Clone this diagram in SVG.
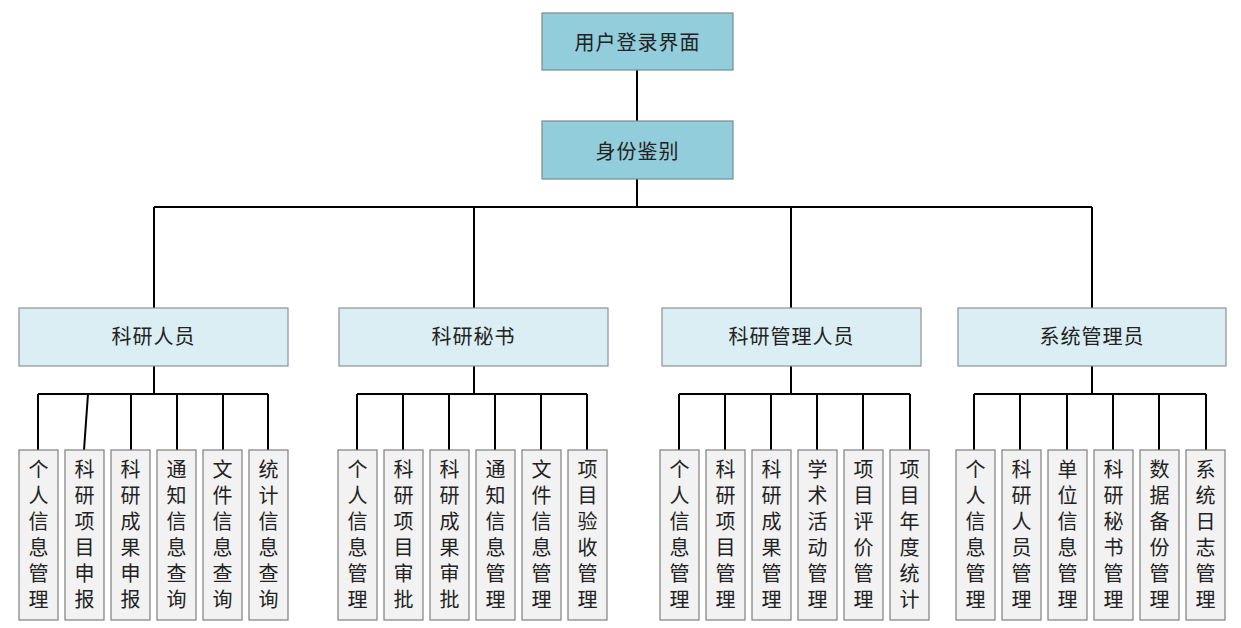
<svg xmlns="http://www.w3.org/2000/svg" width="1241" height="628" viewBox="0 0 1241 628">
<style>
text{font-family:"Noto Sans CJK SC","Noto Sans",sans-serif;fill:#222;text-anchor:middle;}
.t{font-size:20px;letter-spacing:1px;}
.v{font-size:20px;}
.top{fill:#92CDDC;stroke:#7a8a8e;stroke-width:1.2;}
.role{fill:#DAEEF3;stroke:#8a9496;stroke-width:1.2;}
.leaf{fill:#F2F2F2;stroke:#7f7f7f;stroke-width:1.2;}
.c{stroke:#000;stroke-width:2;fill:none;}
</style>
<defs>
<rect id="lf" class="leaf" width="39" height="170"/>
</defs>
<rect width="1241" height="628" fill="#fff"/>
<g id="connectors">
<path class="c" d="M637 70V121M637 179V207M154 207H1092M154 207V308M474 207V308M791 207V308M1092 207V308"/>
<path class="c" d="M154 366V394M38 394H268M38 394V450M88 394L84 450M131 394V450M177 394V450M223 394V450M268 394V450"/>
<path class="c" d="M474 366V394M357 394H587M357 394V450M403 394V450M449 394V450M495 394V450M541 394V450M587 394V450"/>
<path class="c" d="M791 366V394M679 394H910M679 394V450M725 394V450M771 394V450M817 394V450M863 394V450M910 394V450"/>
<path class="c" d="M1092 366V394M974 394H1206M974 394V450M1020 394V450M1067 394V450M1113 394V450M1159 394V450M1206 394V450"/>
</g>
<g id="login"><rect class="top" x="542" y="13" width="191" height="57"/><text class="t" x="637.5" y="50">用户登录界面</text></g>
<g id="auth"><rect class="top" x="542" y="121" width="191" height="58"/><text class="t" x="637.5" y="159">身份鉴别</text></g>
<g id="r1"><rect class="role" x="19" y="308" width="269" height="58"/><text class="t" x="153.5" y="344">科研人员</text></g>
<g id="r2"><rect class="role" x="339" y="308" width="269" height="58"/><text class="t" x="473.5" y="344">科研秘书</text></g>
<g id="r3"><rect class="role" x="662" y="308" width="259" height="58"/><text class="t" x="791.5" y="344">科研管理人员</text></g>
<g id="r4"><rect class="role" x="958" y="308" width="268" height="58"/><text class="t" x="1092" y="344">系统管理员</text></g>
<g id="l1-1"><use href="#lf" x="19" y="450"/><text class="v" x="38.5" y="477"><tspan x="38.5">个</tspan><tspan x="38.5" dy="26">人</tspan><tspan x="38.5" dy="26">信</tspan><tspan x="38.5" dy="26">息</tspan><tspan x="38.5" dy="26">管</tspan><tspan x="38.5" dy="26">理</tspan></text></g>
<g id="l1-2"><use href="#lf" x="65" y="450"/><text class="v" x="84.5" y="477"><tspan x="84.5">科</tspan><tspan x="84.5" dy="26">研</tspan><tspan x="84.5" dy="26">项</tspan><tspan x="84.5" dy="26">目</tspan><tspan x="84.5" dy="26">申</tspan><tspan x="84.5" dy="26">报</tspan></text></g>
<g id="l1-3"><use href="#lf" x="111" y="450"/><text class="v" x="130.5" y="477"><tspan x="130.5">科</tspan><tspan x="130.5" dy="26">研</tspan><tspan x="130.5" dy="26">成</tspan><tspan x="130.5" dy="26">果</tspan><tspan x="130.5" dy="26">申</tspan><tspan x="130.5" dy="26">报</tspan></text></g>
<g id="l1-4"><use href="#lf" x="157" y="450"/><text class="v" x="176.5" y="477"><tspan x="176.5">通</tspan><tspan x="176.5" dy="26">知</tspan><tspan x="176.5" dy="26">信</tspan><tspan x="176.5" dy="26">息</tspan><tspan x="176.5" dy="26">查</tspan><tspan x="176.5" dy="26">询</tspan></text></g>
<g id="l1-5"><use href="#lf" x="203" y="450"/><text class="v" x="222.5" y="477"><tspan x="222.5">文</tspan><tspan x="222.5" dy="26">件</tspan><tspan x="222.5" dy="26">信</tspan><tspan x="222.5" dy="26">息</tspan><tspan x="222.5" dy="26">查</tspan><tspan x="222.5" dy="26">询</tspan></text></g>
<g id="l1-6"><use href="#lf" x="249" y="450"/><text class="v" x="268.5" y="477"><tspan x="268.5">统</tspan><tspan x="268.5" dy="26">计</tspan><tspan x="268.5" dy="26">信</tspan><tspan x="268.5" dy="26">息</tspan><tspan x="268.5" dy="26">查</tspan><tspan x="268.5" dy="26">询</tspan></text></g>
<g id="l2-1"><use href="#lf" x="338" y="450"/><text class="v" x="357.5" y="477"><tspan x="357.5">个</tspan><tspan x="357.5" dy="26">人</tspan><tspan x="357.5" dy="26">信</tspan><tspan x="357.5" dy="26">息</tspan><tspan x="357.5" dy="26">管</tspan><tspan x="357.5" dy="26">理</tspan></text></g>
<g id="l2-2"><use href="#lf" x="384" y="450"/><text class="v" x="403.5" y="477"><tspan x="403.5">科</tspan><tspan x="403.5" dy="26">研</tspan><tspan x="403.5" dy="26">项</tspan><tspan x="403.5" dy="26">目</tspan><tspan x="403.5" dy="26">审</tspan><tspan x="403.5" dy="26">批</tspan></text></g>
<g id="l2-3"><use href="#lf" x="430" y="450"/><text class="v" x="449.5" y="477"><tspan x="449.5">科</tspan><tspan x="449.5" dy="26">研</tspan><tspan x="449.5" dy="26">成</tspan><tspan x="449.5" dy="26">果</tspan><tspan x="449.5" dy="26">审</tspan><tspan x="449.5" dy="26">批</tspan></text></g>
<g id="l2-4"><use href="#lf" x="476" y="450"/><text class="v" x="495.5" y="477"><tspan x="495.5">通</tspan><tspan x="495.5" dy="26">知</tspan><tspan x="495.5" dy="26">信</tspan><tspan x="495.5" dy="26">息</tspan><tspan x="495.5" dy="26">管</tspan><tspan x="495.5" dy="26">理</tspan></text></g>
<g id="l2-5"><use href="#lf" x="522" y="450"/><text class="v" x="541.5" y="477"><tspan x="541.5">文</tspan><tspan x="541.5" dy="26">件</tspan><tspan x="541.5" dy="26">信</tspan><tspan x="541.5" dy="26">息</tspan><tspan x="541.5" dy="26">管</tspan><tspan x="541.5" dy="26">理</tspan></text></g>
<g id="l2-6"><use href="#lf" x="568" y="450"/><text class="v" x="587.5" y="477"><tspan x="587.5">项</tspan><tspan x="587.5" dy="26">目</tspan><tspan x="587.5" dy="26">验</tspan><tspan x="587.5" dy="26">收</tspan><tspan x="587.5" dy="26">管</tspan><tspan x="587.5" dy="26">理</tspan></text></g>
<g id="l3-1"><use href="#lf" x="660" y="450"/><text class="v" x="679.5" y="477"><tspan x="679.5">个</tspan><tspan x="679.5" dy="26">人</tspan><tspan x="679.5" dy="26">信</tspan><tspan x="679.5" dy="26">息</tspan><tspan x="679.5" dy="26">管</tspan><tspan x="679.5" dy="26">理</tspan></text></g>
<g id="l3-2"><use href="#lf" x="706" y="450"/><text class="v" x="725.5" y="477"><tspan x="725.5">科</tspan><tspan x="725.5" dy="26">研</tspan><tspan x="725.5" dy="26">项</tspan><tspan x="725.5" dy="26">目</tspan><tspan x="725.5" dy="26">管</tspan><tspan x="725.5" dy="26">理</tspan></text></g>
<g id="l3-3"><use href="#lf" x="752" y="450"/><text class="v" x="771.5" y="477"><tspan x="771.5">科</tspan><tspan x="771.5" dy="26">研</tspan><tspan x="771.5" dy="26">成</tspan><tspan x="771.5" dy="26">果</tspan><tspan x="771.5" dy="26">管</tspan><tspan x="771.5" dy="26">理</tspan></text></g>
<g id="l3-4"><use href="#lf" x="798" y="450"/><text class="v" x="817.5" y="477"><tspan x="817.5">学</tspan><tspan x="817.5" dy="26">术</tspan><tspan x="817.5" dy="26">活</tspan><tspan x="817.5" dy="26">动</tspan><tspan x="817.5" dy="26">管</tspan><tspan x="817.5" dy="26">理</tspan></text></g>
<g id="l3-5"><use href="#lf" x="844" y="450"/><text class="v" x="863.5" y="477"><tspan x="863.5">项</tspan><tspan x="863.5" dy="26">目</tspan><tspan x="863.5" dy="26">评</tspan><tspan x="863.5" dy="26">价</tspan><tspan x="863.5" dy="26">管</tspan><tspan x="863.5" dy="26">理</tspan></text></g>
<g id="l3-6"><use href="#lf" x="890" y="450"/><text class="v" x="909.5" y="477"><tspan x="909.5">项</tspan><tspan x="909.5" dy="26">目</tspan><tspan x="909.5" dy="26">年</tspan><tspan x="909.5" dy="26">度</tspan><tspan x="909.5" dy="26">统</tspan><tspan x="909.5" dy="26">计</tspan></text></g>
<g id="l4-1"><use href="#lf" x="956" y="450"/><text class="v" x="975.5" y="477"><tspan x="975.5">个</tspan><tspan x="975.5" dy="26">人</tspan><tspan x="975.5" dy="26">信</tspan><tspan x="975.5" dy="26">息</tspan><tspan x="975.5" dy="26">管</tspan><tspan x="975.5" dy="26">理</tspan></text></g>
<g id="l4-2"><use href="#lf" x="1002" y="450"/><text class="v" x="1021.5" y="477"><tspan x="1021.5">科</tspan><tspan x="1021.5" dy="26">研</tspan><tspan x="1021.5" dy="26">人</tspan><tspan x="1021.5" dy="26">员</tspan><tspan x="1021.5" dy="26">管</tspan><tspan x="1021.5" dy="26">理</tspan></text></g>
<g id="l4-3"><use href="#lf" x="1048" y="450"/><text class="v" x="1067.5" y="477"><tspan x="1067.5">单</tspan><tspan x="1067.5" dy="26">位</tspan><tspan x="1067.5" dy="26">信</tspan><tspan x="1067.5" dy="26">息</tspan><tspan x="1067.5" dy="26">管</tspan><tspan x="1067.5" dy="26">理</tspan></text></g>
<g id="l4-4"><use href="#lf" x="1094" y="450"/><text class="v" x="1113.5" y="477"><tspan x="1113.5">科</tspan><tspan x="1113.5" dy="26">研</tspan><tspan x="1113.5" dy="26">秘</tspan><tspan x="1113.5" dy="26">书</tspan><tspan x="1113.5" dy="26">管</tspan><tspan x="1113.5" dy="26">理</tspan></text></g>
<g id="l4-5"><use href="#lf" x="1140" y="450"/><text class="v" x="1159.5" y="477"><tspan x="1159.5">数</tspan><tspan x="1159.5" dy="26">据</tspan><tspan x="1159.5" dy="26">备</tspan><tspan x="1159.5" dy="26">份</tspan><tspan x="1159.5" dy="26">管</tspan><tspan x="1159.5" dy="26">理</tspan></text></g>
<g id="l4-6"><use href="#lf" x="1186" y="450"/><text class="v" x="1205.5" y="477"><tspan x="1205.5">系</tspan><tspan x="1205.5" dy="26">统</tspan><tspan x="1205.5" dy="26">日</tspan><tspan x="1205.5" dy="26">志</tspan><tspan x="1205.5" dy="26">管</tspan><tspan x="1205.5" dy="26">理</tspan></text></g>
</svg>
